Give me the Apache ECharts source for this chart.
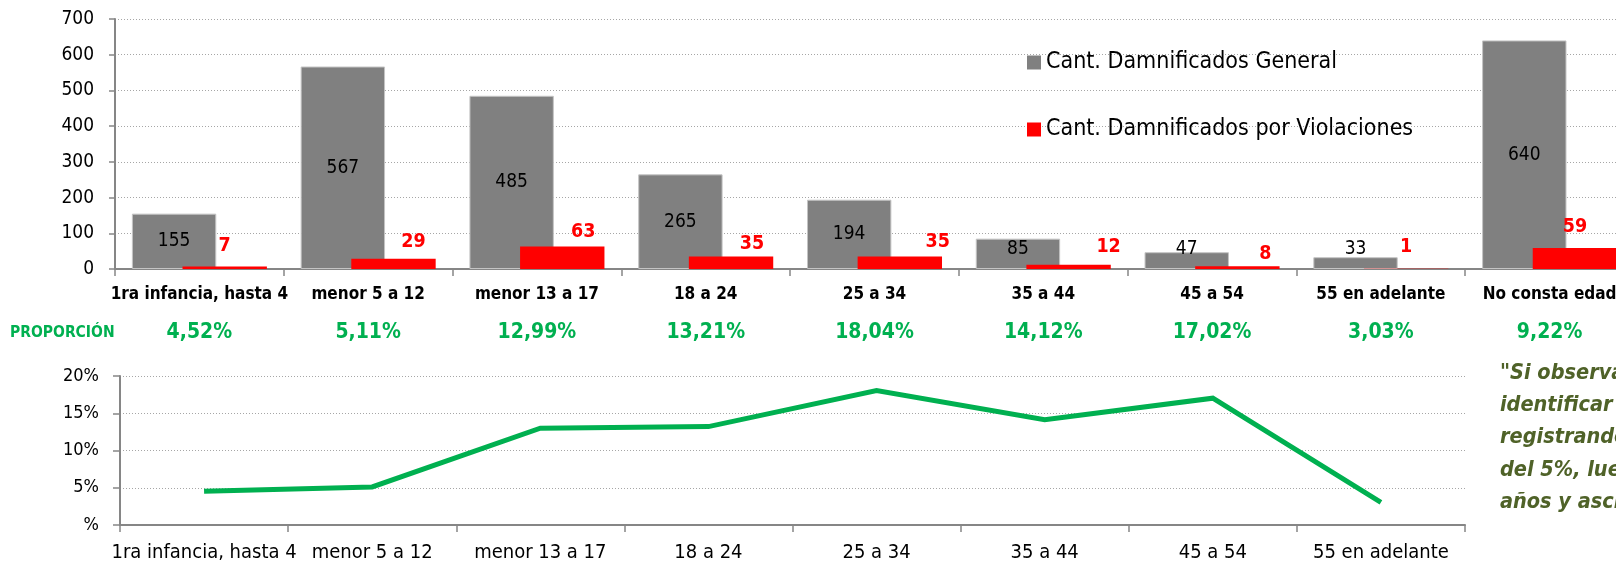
<!DOCTYPE html>
<html>
<head>
<meta charset="utf-8">
<script src="https://cdn.jsdelivr.net/npm/echarts@6/dist/echarts.min.js"></script>
<style>
  html, body { margin: 0; padding: 0; background: #fff; overflow: hidden; }
  /* the last age group runs past the right edge of the page */
  #chart { width: 1640px; height: 565px; }
</style>
</head>
<body>
<div id="chart"></div>
<script>
// Age groups, counts of victims and share of them linked to violations
const categories = ['1ra infancia, hasta 4', 'menor 5 a 12', 'menor 13 a 17', '18 a 24', '25 a 34', '35 a 44', '45 a 54', '55 en adelante', 'No consta edad'];
const damnificadosGeneral = [155, 567, 485, 265, 194, 85, 47, 33, 640];
const damnificadosViolaciones = [7, 29, 63, 35, 35, 12, 8, 1, 59];
const proporcion = [4.52, 5.11, 12.99, 13.21, 18.04, 14.12, 17.02, 3.03, 9.22];
// The line chart only covers the groups with a known age
const lineCategories = categories.slice(0, 8);
const lineValues = proporcion.slice(0, 8);

const seriesNames = ['Cant. Damnificados General', 'Cant. Damnificados por Violaciones'];
const noteLines = [
  '"Si observamos la proporción, podemos',
  'identificar que en los más chicos se va',
  'registrando una proporción cercana',
  'del 5%, luego crece a partir de los 13',
  'años y asciende hasta los 54 años"'
];

// Hand placement of the red value labels (x, y nudges)
const redLabelNudge = [[0, -6], [20, -2], [21, 0], [21, 2], [38, 0], [40, -3], [28, 3], [0, -7], [0, -6]];

const FONT = '"DejaVu Sans Condensed", "Liberation Sans Narrow", "Arial Narrow", sans-serif';
const GREEN = '#00b050';
const AXIS_GREY = '#868686';
const GRID_GREY = '#a6a6a6';

const fmtPct = v => v.toFixed(2).replace('.', ',') + '%';

const chart = echarts.init(document.getElementById('chart'), null, { renderer: 'canvas' });

chart.setOption({
  animation: false,
  textStyle: { fontFamily: FONT },
  legend: {
    orient: 'vertical',
    left: 1027,
    top: 51,
    padding: 0,
    itemWidth: 14,
    itemHeight: 14,
    itemGap: 44,
    icon: 'rect',
    selectedMode: false,
    itemStyle: { borderWidth: 0 },
    textStyle: { fontFamily: FONT, fontSize: 23, lineHeight: 23, color: '#000' },
    data: seriesNames
  },
  grid: [
    { left: 115, right: 6, top: 19, bottom: 296 },
    { left: 120, right: 175, top: 376, bottom: 40 }
  ],
  xAxis: [
    {
      type: 'category',
      gridIndex: 0,
      data: categories,
      axisLine: { lineStyle: { color: AXIS_GREY, width: 2 } },
      axisTick: { show: true, length: 7, lineStyle: { color: AXIS_GREY, width: 1.5 } },
      axisLabel: {
        interval: 0,
        margin: 11,
        formatter: (name, i) => '{n|' + name + '}\n{p|' + fmtPct(proporcion[i]) + '}',
        rich: {
          n: { fontFamily: FONT, fontWeight: 'bold', fontSize: 17, lineHeight: 30, color: '#000' },
          p: { fontFamily: FONT, fontWeight: 'bold', fontSize: 21, lineHeight: 45, color: GREEN }
        }
      }
    },
    {
      type: 'category',
      gridIndex: 1,
      data: lineCategories,
      axisLine: { lineStyle: { color: AXIS_GREY, width: 2 } },
      axisTick: { show: true, length: 7, lineStyle: { color: AXIS_GREY, width: 1.5 } },
      axisLabel: { interval: 0, margin: 18, fontFamily: FONT, fontSize: 20, color: '#000' }
    }
  ],
  yAxis: [
    {
      type: 'value',
      gridIndex: 0,
      min: 0,
      max: 700,
      interval: 100,
      axisLine: { show: true, lineStyle: { color: AXIS_GREY, width: 2 } },
      axisTick: { show: true, length: 6, lineStyle: { color: AXIS_GREY, width: 1.5 } },
      axisLabel: { margin: 21, fontFamily: FONT, fontSize: 19, color: '#000' },
      splitLine: { lineStyle: { color: GRID_GREY, type: [1, 2], width: 1 } }
    },
    {
      type: 'value',
      gridIndex: 1,
      min: 0,
      max: 20,
      interval: 5,
      axisLine: { show: true, lineStyle: { color: AXIS_GREY, width: 2 } },
      axisTick: { show: true, length: 7, lineStyle: { color: AXIS_GREY, width: 1.5 } },
      axisLabel: {
        margin: 21,
        fontFamily: FONT,
        fontSize: 18,
        color: '#000',
        formatter: v => (v === 0 ? '%' : v + '%')
      },
      splitLine: { lineStyle: { color: GRID_GREY, type: [1, 2], width: 1 } }
    }
  ],
  series: [
    {
      name: seriesNames[0],
      type: 'bar',
      xAxisIndex: 0,
      yAxisIndex: 0,
      barWidth: '50%',
      barGap: '-40%',
      itemStyle: { color: '#808080', borderColor: '#c4c4c4', borderWidth: 1 },
      label: {
        show: true,
        position: 'inside',
        fontFamily: FONT,
        fontSize: 19,
        color: '#000'
      },
      // short bars carry their value just above the baseline
      data: damnificadosGeneral.map(v => (v < 100 ? { value: v, label: { position: 'insideBottom', distance: 10 } } : v))
    },
    {
      name: seriesNames[1],
      type: 'bar',
      xAxisIndex: 0,
      yAxisIndex: 0,
      barWidth: '50%',
      barGap: '-40%',
      itemStyle: { color: '#ff0000' },
      label: {
        show: true,
        position: 'top',
        distance: 5,
        fontFamily: FONT,
        fontWeight: 'bold',
        fontSize: 19.5,
        color: '#ff0000'
      },
      data: damnificadosViolaciones.map((v, i) => ({ value: v, label: { offset: redLabelNudge[i] } }))
    },
    {
      name: 'Proporción',
      type: 'line',
      xAxisIndex: 1,
      yAxisIndex: 1,
      showSymbol: false,
      symbol: 'none',
      lineStyle: { color: GREEN, width: 5, join: 'miter' },
      data: lineValues
    }
  ],
  graphic: [
    {
      type: 'text',
      left: 10,
      top: 324.5,
      style: {
        text: 'PROPORCIÓN',
        fontFamily: FONT,
        fontWeight: 'bold',
        fontSize: 15.5,
        fill: GREEN
      }
    },
    {
      type: 'text',
      left: 1500,
      top: 357,
      style: {
        text: noteLines.join('\n'),
        fontFamily: FONT,
        fontStyle: 'italic',
        fontWeight: 'bold',
        fontSize: 21.5,
        lineHeight: 32.3,
        fill: '#4f6228'
      }
    }
  ]
});
</script>
</body>
</html>
